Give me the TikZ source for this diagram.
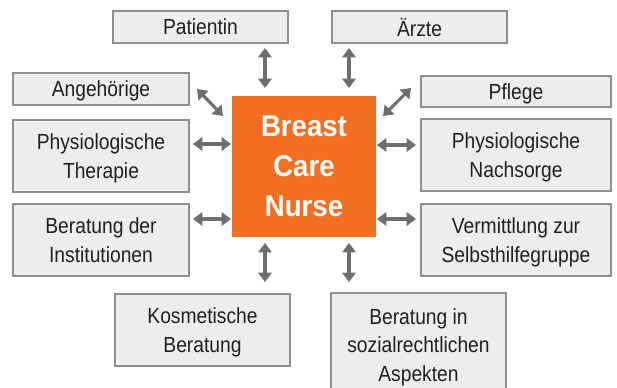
\documentclass[tikz,border=0pt]{standalone}
\usepackage{fontspec}
\setmainfont[FakeStretch=0.88]{Liberation Sans}
\newfontfamily\bcfont[FakeStretch=0.92]{Liberation Sans}
\usetikzlibrary{arrows.meta,calc}
\definecolor{boxfill}{HTML}{ECEDED}
\definecolor{boxline}{HTML}{8E8E8E}
\definecolor{bcorange}{HTML}{F26F22}
\definecolor{arrgray}{HTML}{6D6E70}
\definecolor{txt}{HTML}{231F20}
\tikzset{
  infobox/.style={draw=boxline, line width=0.9pt, fill=boxfill, inner sep=0pt, outer sep=0pt,
    align=center, text=txt, text depth=0pt, font=\fontsize{16.4}{21.4}\selectfont},
  centerbox/.style={fill=bcorange, inner sep=0pt, outer sep=0pt, align=center, text=white, text depth=0pt,
    font=\bcfont\bfseries\fontsize{22.5}{30}\selectfont, minimum width=108pt, minimum height=105.75pt},
  arr/.style={draw=arrgray, line width=2.3pt, {Triangle[length=7pt,width=10pt]}-{Triangle[length=7pt,width=10pt]}}
}
\begin{document}
\begin{tikzpicture}[x=0.75pt,y=-0.75pt]
\useasboundingbox (0,0) rectangle (617,387);
\clip (0,0) rectangle (617,387);
\node[infobox, minimum width=131.25pt, minimum height=24pt] (pat) at (200.5,27) {Patientin};
\node[infobox, minimum width=131.25pt, minimum height=24pt] (arz) at (419.5,27) {Ärzte};
\node[infobox, minimum width=132pt, minimum height=24pt] (ang) at (101,89) {Angehörige};
\node[infobox, minimum width=132pt, minimum height=54pt] (pthe) at (101,156) {Physiologische\\Therapie};
\node[infobox, minimum width=142.5pt, minimum height=23.25pt] (pfl) at (516,91.5) {Pflege};
\node[infobox, minimum width=142.5pt, minimum height=54pt] (pna) at (516,155) {Physiologische\\Nachsorge};
\node[infobox, minimum width=132pt, minimum height=54pt] (ber) at (101,240) {Beratung der\\Institutionen};
\node[infobox, minimum width=142.5pt, minimum height=54pt] (ver) at (516,240) {Vermittlung zur\\Selbsthilfegruppe};
\node[infobox, minimum width=131.25pt, minimum height=54pt] (kos) at (202.5,330) {Kosmetische\\Beratung};
\node[infobox, minimum width=131.25pt, minimum height=78pt] (soz) at (418.5,345) {Beratung in\\sozialrechtlichen\\Aspekten};
\node[centerbox] (nur) at (304,166.5) {Breast\\Care\\Nurse};
% connectors
\draw[arr] ($(pat.south east)+(-23,5)$) -- ($(nur.north west)+(33,-8)$);
\draw[arr] ($(arz.south west)+(17,5)$) -- ($(nur.north east)+(-27,-8)$);
\draw[arr] ($(ang.east)+(8,0)$) -- ($(nur.north west)+(-9,20)$);
\draw[arr] ($(pfl.west)+(-10,-3.5)$) -- ($(nur.north east)+(7,20)$);
\draw[arr] ($(pthe.north east)+(4,24)$) -- ($(nur.north west)+(-1,48)$);
\draw[arr] ($(nur.north east)+(1,49)$) -- ($(pna.north west)+(-5,26)$);
\draw[arr] ($(ber.north east)+(4,15)$) -- ($(nur.south west)+(-1,-18)$);
\draw[arr] ($(nur.south east)+(1,-18)$) -- ($(ver.north west)+(-5,15)$);
\draw[arr] ($(nur.south west)+(33,6)$) -- ($(kos.north east)+(-25,-12)$);
\draw[arr] ($(nur.south east)+(-27,6)$) -- ($(soz.north west)+(18,-11)$);
\end{tikzpicture}
\end{document}
